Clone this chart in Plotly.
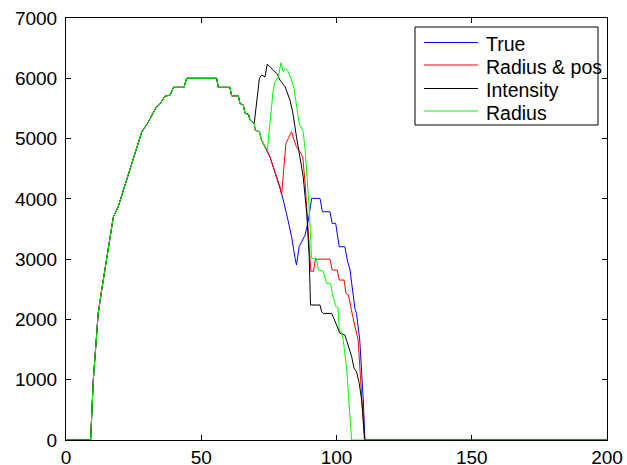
import plotly.graph_objects as go

# ---- data ----
names = ["True", "Radius & pos", "Intensity", "Radius"]
colors = ["#0000ff", "#ff0000", "#000000", "#00ff00"]

# shared by all four series (Intensity departs after this)
common_x = [0, 9.1, 10.1, 11.1, 11.9, 13.2, 15.0, 16.3, 17.5, 19.3, 22.4, 26.1, 28.0, 30.1,
            31.7, 33.5, 34.5, 36.6, 38.5, 39.7, 43.6, 44.6, 55.7, 56.3, 60.6, 61.2, 63.7,
            64.3, 65.5, 66.2, 67.5, 68.0, 69.2, 69.6]
common_y = [0, 0, 1000, 1710, 2100, 2490, 2985, 3320, 3700, 3870, 4310, 4810, 5110, 5250,
            5390, 5530, 5560, 5705, 5720, 5850, 5850, 6000, 6000, 5850, 5850, 5710, 5710,
            5583, 5560, 5420, 5400, 5307, 5262, 5260]

# shared by True, Radius & pos and Radius up to x = 74.4
shared_x = [69.9, 71.5, 72.3, 73.6, 74.4]
shared_y = [5141, 5113, 4975, 4864, 4809]

true_x = [75.4, 76.6, 77.9, 79.1, 79.7, 81.5, 83.4, 84.7, 85.2, 86.2, 87.1, 88.4, 89.6, 90.4,
          90.8, 93.9, 94.8, 97.6, 98.4, 99.7, 100.0, 101.0, 103.1, 104.0, 105.0, 106.2, 106.8,
          107.4, 108.6, 109.9, 110.5, 200]
true_y = [4698, 4532, 4339, 4200, 4091, 3759, 3372, 3013, 2902, 3206, 3289, 3400, 3648, 3925,
          4008, 4008, 3786, 3786, 3593, 3593, 3483, 3206, 3206, 2985, 2819, 2432, 2184,
          2100, 1658, 663, 0, 0]

radpos_x = [75.4, 76.6, 77.9, 79.1, 79.7, 80.6, 81.3, 82.2, 83.4, 84.3, 85.2, 86.5, 87.5, 88.4,
            90.5, 91.5, 92.2, 97.6, 98.4, 100.3, 101.0, 102.8, 103.5, 104.4, 105.0, 106.0,
            108.0, 109.3, 110.3, 200]
radpos_y = [4698, 4532, 4339, 4200, 4063, 4478, 4920, 5003, 5113, 4975, 4864, 4781, 4698, 4257,
            2800, 2800, 3000, 3000, 2819, 2819, 2653, 2653, 2432, 2404, 2250, 2050,
            1658, 774, 0, 0]

intensity_x = [71.5, 72.3, 73.6, 74.4, 75.4, 76.6, 78.1, 79.1, 81.0, 82.8, 83.8, 85.2, 86.5,
               87.7, 88.4, 89.0, 89.9, 90.4, 93.9, 94.5, 95.1, 98.2, 99.0, 100.7, 101.3,
               103.1, 104.4, 105.6, 106.5, 107.4, 108.4, 109.3, 109.9, 110.5, 200]
intensity_y = [6000, 6053, 6025, 6235, 6191, 6136, 6070, 5970, 5859, 5638, 5444, 5030, 4698,
               4366, 4035, 3759, 3040, 2239, 2239, 2128, 2100, 2100, 2018, 1852, 1769,
               1741, 1548, 1382, 1189, 1133, 940, 663, 332, 0, 0]

radius_x = [75.4, 76.0, 76.6, 77.3, 78.5, 79.5, 80.3, 81.2, 82.2, 83.4, 84.3, 85.2, 86.2, 87.7,
            88.4, 89.2, 90.0, 90.8, 92.6, 93.3, 95.1, 96.3, 97.8, 98.6, 99.8, 100.5, 101.0,
            101.9, 102.5, 103.8, 104.7, 105.6, 200]
radius_y = [5251, 5583, 5804, 5942, 6025, 6257, 6108, 6163, 6108, 5970, 5831, 5556, 5251, 5113,
            4809, 4312, 3759, 3013, 3013, 2819, 2800, 2598, 2598, 2404, 2211, 2200, 1850,
            1769, 1658, 1161, 552, 0, 0]

x_ticks = [0, 50, 100, 150, 200]
y_ticks = [0, 1000, 2000, 3000, 4000, 5000, 6000, 7000]

series_x = [common_x + shared_x + true_x,
            common_x + shared_x + radpos_x,
            common_x + intensity_x,
            common_x + shared_x + radius_x]
series_y = [common_y + shared_y + true_y,
            common_y + shared_y + radpos_y,
            common_y + intensity_y,
            common_y + shared_y + radius_y]

# ---- layout constants (pixels) ----
W, H = 627, 465
L, R, T, B = 66, 607, 18, 440
FONT = "Liberation Sans, Arial, sans-serif"
FS = 19

fig = go.Figure()
for n, c, xs, ys in zip(names, colors, series_x, series_y):
    fig.add_trace(go.Scatter(x=xs, y=ys, mode="lines", name=n,
                             line=dict(color=c, width=1), showlegend=False))

def px(xp):
    return (xp - L) / (R - L)

def py(yp):
    return (B - yp) / (B - T)

# manual MATLAB-style legend
shapes = [dict(type="rect", xref="paper", yref="paper",
               x0=px(415), x1=px(598), y0=py(125), y1=py(27),
               line=dict(color="black", width=1), fillcolor="white", layer="above")]
annotations = []
line_rows = [42.5, 65, 88.5, 111]
text_rows = [44, 67, 90, 112.5]
for n, c, ly, ty in zip(names, colors, line_rows, text_rows):
    shapes.append(dict(type="line", xref="paper", yref="paper",
                       x0=px(424), x1=px(478), y0=py(ly), y1=py(ly),
                       line=dict(color=c, width=1), layer="above"))
    annotations.append(dict(text=n, xref="paper", yref="paper", x=px(484), y=py(ty),
                            xanchor="left", yanchor="middle", showarrow=False,
                            font=dict(family=FONT, size=19.5, color="black")))

axis_common = dict(showline=True, linecolor="black", linewidth=1, mirror="ticks",
                   ticks="inside", ticklen=5, tickcolor="black", showgrid=False,
                   zeroline=False, automargin=False,
                   tickfont=dict(family=FONT, size=FS, color="black"))

fig.update_layout(
    width=W, height=H,
    margin=dict(l=L, r=W - R, t=T, b=H - B, pad=0, autoexpand=False),
    paper_bgcolor="white", plot_bgcolor="white",
    xaxis=dict(range=[0, 200], tickvals=x_ticks, **axis_common),
    yaxis=dict(range=[0, 7000], tickvals=y_ticks, ticklabelstandoff=4, **axis_common),
    shapes=shapes, annotations=annotations,
    showlegend=False,
)

fig.write_html("out.html")
